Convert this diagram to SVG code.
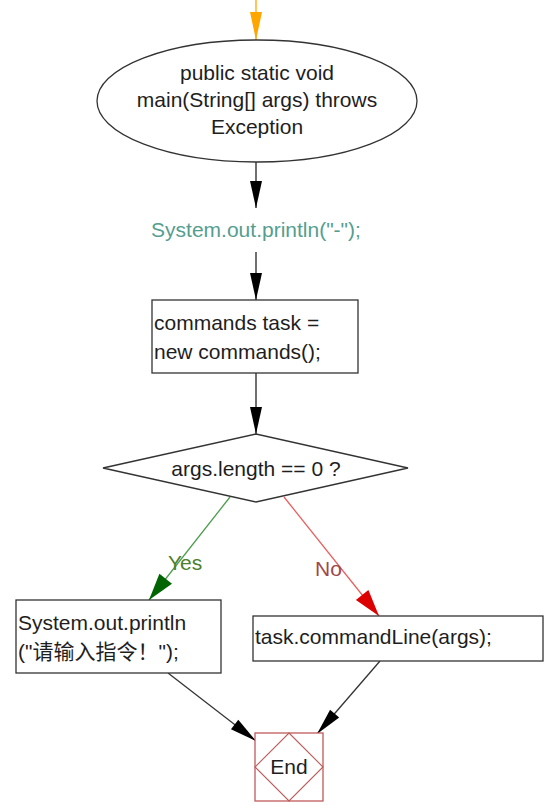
<svg xmlns="http://www.w3.org/2000/svg" width="556" height="806" viewBox="0 0 556 806">
<style>
  text { font-family: "Liberation Sans", Arial, "Noto Sans CJK SC", sans-serif; font-size: 21px; fill: #1e1e1e; }
  .c { text-anchor: middle; }
  .shape { fill: #ffffff; stroke: #333333; stroke-width: 1.3; }
  .conn { fill: none; stroke-width: 1.3; }
</style>
<defs>
  <marker id="aOrange" markerUnits="userSpaceOnUse" viewBox="-28 -8 30 16" refX="0" refY="0" markerWidth="30" markerHeight="16" orient="auto">
    <path d="M0,0 L-28,-6 L-28,6 Z" fill="#ffa500"/>
  </marker>
  <marker id="aBlack" markerUnits="userSpaceOnUse" viewBox="-28 -8 30 16" refX="0" refY="0" markerWidth="30" markerHeight="16" orient="auto">
    <path d="M0,0 L-27,-6 L-27,6 Z" fill="#000000"/>
  </marker>
  <marker id="aGreen" markerUnits="userSpaceOnUse" viewBox="-28 -10 30 20" refX="0" refY="0" markerWidth="30" markerHeight="20" orient="auto">
    <path d="M0,0 L-27,-8 L-27,8 Z" fill="#006400"/>
  </marker>
  <marker id="aRed" markerUnits="userSpaceOnUse" viewBox="-28 -10 30 20" refX="0" refY="0" markerWidth="30" markerHeight="20" orient="auto">
    <path d="M0,0 L-27,-8 L-27,8 Z" fill="#dd0000"/>
  </marker>
</defs>

<g id="connectors">
  <line class="conn" x1="256" y1="0" x2="256" y2="40" stroke="#ffa500" marker-end="url(#aOrange)"/>
  <line class="conn" x1="256" y1="162" x2="256" y2="208" stroke="#222" marker-end="url(#aBlack)"/>
  <line class="conn" x1="256" y1="252" x2="256" y2="300" stroke="#222" marker-end="url(#aBlack)"/>
  <line class="conn" x1="256" y1="373" x2="256" y2="434" stroke="#222" marker-end="url(#aBlack)"/>
  <line class="conn" x1="230" y1="497" x2="149" y2="600" stroke="#4c9c4c" marker-end="url(#aGreen)"/>
  <line class="conn" x1="284" y1="497" x2="379" y2="616" stroke="#e86060" marker-end="url(#aRed)"/>
  <line class="conn" x1="168" y1="673" x2="256" y2="741" stroke="#333" marker-end="url(#aBlack)"/>
  <line class="conn" x1="380" y1="661" x2="317" y2="734" stroke="#333" marker-end="url(#aBlack)"/>
  <text x="168" y="570" style="fill:#4d7f2c">Yes</text>
  <text x="315" y="576" style="fill:#a04848">No</text>
</g>

<g id="start">
  <ellipse class="shape" cx="257" cy="101" rx="160" ry="61"/>
  <text class="c" x="257" y="80">public static void</text>
  <text class="c" x="257" y="107">main(String[] args) throws</text>
  <text class="c" x="257" y="134">Exception</text>
</g>

<g id="print1">
  <text class="c" x="256" y="237" style="fill:#559e8f">System.out.println("-");</text>
</g>

<g id="init">
  <rect class="shape" x="152" y="300" width="206" height="73"/>
  <text x="154" y="330">commands task =</text>
  <text x="154" y="359">new commands();</text>
</g>

<g id="decision">
  <polygon class="shape" points="103,468 256,434 408,468 256,502"/>
  <text class="c" x="256" y="476">args.length == 0 ?</text>
</g>

<g id="printHint">
  <rect class="shape" x="16" y="600" width="205" height="73"/>
  <text x="18" y="630">System.out.println</text>
  <text x="18" y="659">("请输入指令！");</text>
</g>

<g id="runCommand">
  <rect class="shape" x="253" y="616" width="290" height="45"/>
  <text x="255" y="644">task.commandLine(args);</text>
</g>

<g id="end">
  <rect x="255" y="733" width="68" height="68" fill="#ffffff" stroke="#c05a5a" stroke-width="1.3"/>
  <polygon points="289,733 323,767 289,801 255,767" fill="none" stroke="#c05a5a" stroke-width="1.1"/>
  <text class="c" x="289" y="774">End</text>
</g>
</svg>
